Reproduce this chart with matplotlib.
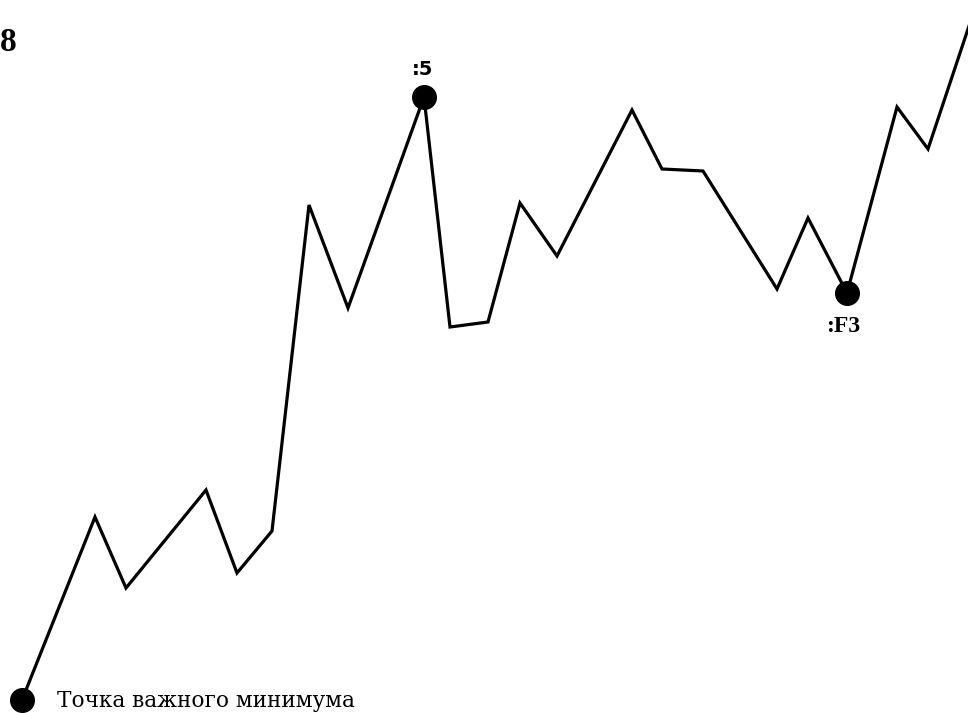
"""Price swing chart with important minimum point."""
import matplotlib
matplotlib.use('Agg')
import matplotlib.pyplot as plt

# swing points (bar position, price level)
bars = [22, 95, 126, 206, 237, 272, 309, 348, 424, 450, 488, 520, 557,
        632, 662, 703, 777, 808, 847, 897, 928, 972]
prices = [13, 196, 125, 223, 140, 182, 508, 405, 616, 386, 391, 510, 457,
          603, 544, 542, 424, 495, 420, 606, 564, 696]

# marked points: (index into bars, label)
marks = [0, 8, 18]
mark_labels = ['Точка важного минимума', ':5', ':F3']

fig = plt.figure(figsize=(9.68, 7.13), dpi=100)
ax = fig.add_axes([0, 0, 1, 1])
ax.set_xlim(0, 968)
ax.set_ylim(0, 713)
ax.axis('off')

ax.plot(bars, prices, color='black', lw=2.3, solid_joinstyle='miter', zorder=2)
ax.plot([bars[i] for i in marks], [prices[i] for i in marks], 'o',
        color='black', ms=17, zorder=3)

serif = ['Liberation Serif', 'DejaVu Serif']
ax.annotate(mark_labels[0], (bars[0], prices[0]), xytext=(25, -0.5),
            textcoords='offset points', va='center', ha='left',
            fontsize=15.6, family=['DejaVu Serif'])
ax.annotate(mark_labels[1], (bars[8], prices[8]), xytext=(-1, 20),
            textcoords='offset points', va='center', ha='center',
            fontsize=14, fontweight='bold', family=['DejaVu Sans'])
ax.annotate(mark_labels[2], (bars[18], prices[18]), xytext=(-3, -24),
            textcoords='offset points', va='center', ha='center',
            fontsize=17, fontweight='bold', family=serif)

fig.text(0.0, 0.94, '8', fontsize=24, fontweight='bold', family=serif,
         va='center', ha='left')

fig.savefig('out.png', dpi=100)
